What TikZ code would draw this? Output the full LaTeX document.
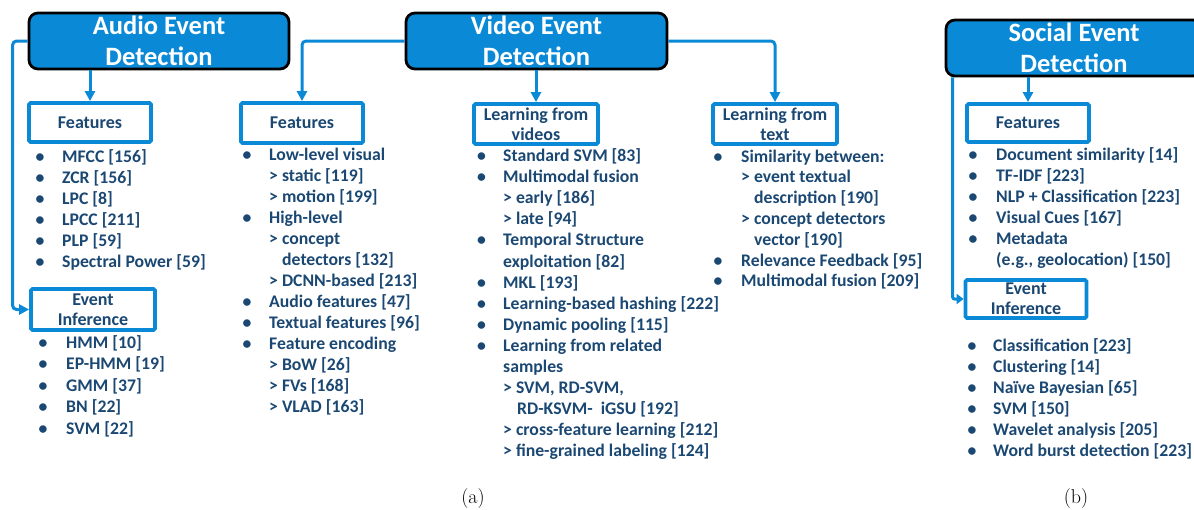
\documentclass[tikz,border=0pt]{standalone}
\usepackage{fontspec}
\usetikzlibrary{arrows.meta}
\newfontfamily\cfont{Carlito}
\newcommand\ttlfont{\cfont\bfseries\fontsize{26.5}{31.5}\selectfont}
\newcommand\lstfont{\cfont\bfseries\fontsize{17.7}{21}\selectfont}
\newcommand\bxfont{\cfont\bfseries\fontsize{18}{20}\selectfont}
\newcommand\capfont{\fontsize{20}{24}\selectfont}
\definecolor{cblue}{RGB}{10,137,214}
\definecolor{tblue}{RGB}{27,72,115}

\tikzset{
  title/.style={draw=black, line width=2.8pt, fill=cblue, rounded corners=9pt,
    text=white, font=\ttlfont, align=center, inner sep=0pt},
  catbox/.style={draw=cblue, line width=3.8pt, fill=white, rounded corners=1.5pt,
    text=tblue, font=\bxfont, align=center, inner sep=0pt},
  conn/.style={draw=cblue, line width=3pt, rounded corners=4pt,
    -{Triangle[length=10pt,width=10pt]}},
  entry/.style={anchor=base west, inner sep=0pt, font=\lstfont, text=tblue},
  dot/.style={anchor=base, inner sep=0pt, font=\lstfont, text=tblue},
  panelcap/.style={font=\capfont, inner sep=0pt, anchor=base}
}

% #1 name, #2 bullet x, #3 text x, #4 first baseline, #5 line step,
% #6 continuation indent, #7 entries kind/text
% kind: 1 = bulleted line, 0 = plain line, 2 = indented continuation
\newcommand\listcol[7]{%
  \foreach \k/\t [count=\i from 0] in {#7} {
    \pgfmathsetmacro\yy{#4+\i*#5}
    \ifnum\k=2
      \node[entry] (#1-\i) at (#3+#6,\yy) {\t};
    \else
      \node[entry] (#1-\i) at (#3,\yy) {\t};
    \fi
    \ifnum\k=1
      \node[dot] (#1-b\i) at (#2,\yy) {\textbullet};
    \fi
  }%
}

\begin{document}
\begin{tikzpicture}[x=1pt, y=-1pt]
\useasboundingbox (0,0) rectangle (1194,509);
\clip (0,0) rectangle (1194,509);

% top-level categories
\node[title, minimum width=260pt, minimum height=56pt] (audio) at (159,41) {Audio Event\\Detection};
\node[title, minimum width=261pt, minimum height=56pt] (video) at (536.5,41) {Video Event\\Detection};
\node[title, minimum width=256pt, minimum height=56pt] (social) at (1074,48) {Social Event\\Detection};

% sub-category boxes
\node[catbox, minimum width=122pt, minimum height=39pt] (afeat) at (90,122.5) {Features};
\node[catbox, minimum width=124pt, minimum height=41pt] (ainf) at (93,309.5) {Event\\Inference};
\node[catbox, minimum width=122pt, minimum height=40pt] (vfeat) at (302,123) {Features};
\node[catbox, minimum width=124pt, minimum height=40pt] (lvid) at (536,124) {Learning from\\videos};
\node[catbox, minimum width=124pt, minimum height=40pt] (ltxt) at (775,124) {Learning from\\text};
\node[catbox, minimum width=122pt, minimum height=38pt] (sfeat) at (1028,123) {Features};
\node[catbox, minimum width=121pt, minimum height=38pt] (sinf) at (1026,299) {Event\\Inference};

% connectors
\draw[conn] (afeat.north |- audio.south) -- (afeat.north);
\draw[conn] (audio.west) -- ++(-15,0) |- (ainf.west);
\draw[conn] (video.west) -| (vfeat.north);
\draw[conn] (lvid.north |- video.south) -- (lvid.north);
\draw[conn] (video.east) -| (ltxt.north);
\draw[conn] (sfeat.north |- social.south) -- (sfeat.north);
\draw[conn, rounded corners=2pt, -{Triangle[length=7pt,width=10pt]}]
  ([xshift=8pt]social.south west) |- (sinf.west);

% audio lists
\listcol{af}{40}{62}{162}{21.1}{13}{1/MFCC [156], 1/ZCR [156], 1/LPC [8],
  1/LPCC [211], 1/PLP [59], 1/Spectral Power [59]}
\listcol{ai}{43}{66}{348}{21.5}{13}{1/HMM [10], 1/EP-HMM [19], 1/GMM [37],
  1/BN [22], 1/SVM [22]}

% video lists
\listcol{vf}{247}{269}{160}{21.06}{13}{1/Low-level visual, 0/> static [119],
  0/> motion [199], 1/High-level, 0/> concept, 2/detectors [132],
  0/> DCNN-based [213], 1/Audio features [47], 1/Textual features [96],
  1/Feature encoding, 0/> BoW [26], 0/> FVs [168], 0/> VLAD [163]}
\listcol{lv}{481.5}{503}{161.7}{21.07}{14}{1/Standard SVM [83],
  1/Multimodal fusion, 0/> early [186], 0/> late [94], 1/Temporal Structure,
  0/exploitation [82], 1/MKL [193], 1/Learning-based hashing [222],
  1/Dynamic pooling [115], 1/Learning from related, 0/samples,
  {0/> SVM, RD-SVM,}, 2/RD-KSVM-\ \ iGSU [192],
  0/> cross-feature learning [212], 0/> fine-grained labeling [124]}
\listcol{lt}{718}{741}{162}{20.8}{13}{1/Similarity between:,
  0/> event textual, 2/description [190], 0/> concept detectors,
  2/vector [190], 1/Relevance Feedback [95], 1/Multimodal fusion [209]}

% social lists
\listcol{sf}{973}{996}{160.7}{20.9}{13}{1/Document similarity [14],
  1/TF-IDF [223], 1/NLP + Classification [223], 1/Visual Cues [167],
  1/Metadata, {0/(e.g., geolocation) [150]}}
\listcol{si}{972}{993}{351.7}{21}{13}{1/Classification [223],
  1/Clustering [14], 1/Naïve Bayesian [65], 1/SVM [150],
  1/Wavelet analysis [205], 1/Word burst detection [223]}

% panel captions
\node[panelcap] (capa) at (473,503) {(a)};
\node[panelcap] (capb) at (1076,503) {(b)};
\end{tikzpicture}
\end{document}
